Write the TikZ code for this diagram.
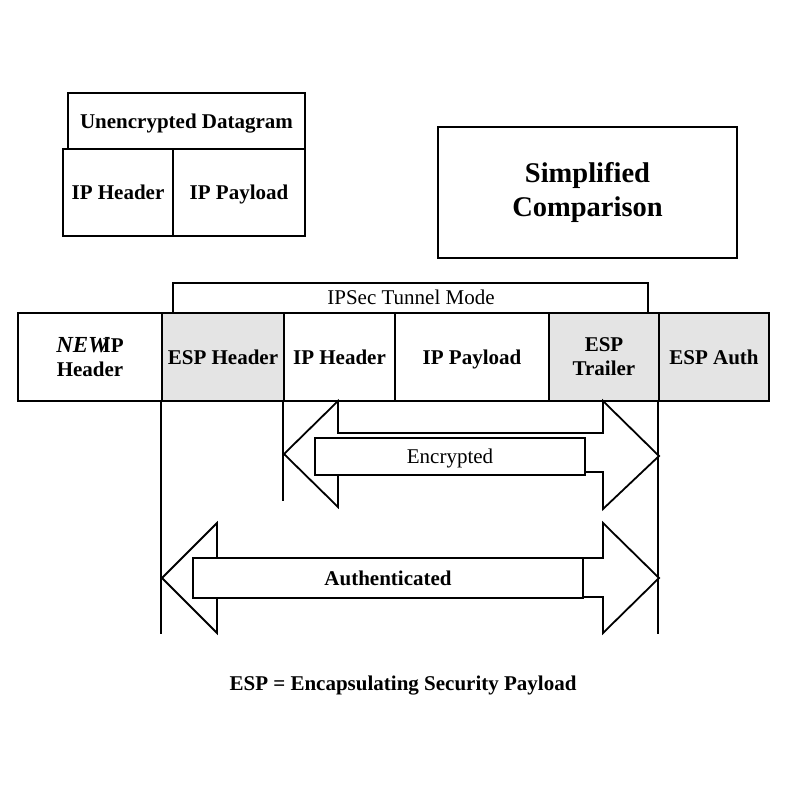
\documentclass[tikz,border=0pt]{standalone}
\usepackage{fontspec}
\setmainfont{Liberation Serif}
\usepackage{xcolor}
\usetikzlibrary{positioning,calc}
\definecolor{CellGray}{HTML}{E4E4E4}
\newcommand{\bodyfont}{\fontsize{21}{24}\selectfont}
\tikzset{
  cell/.style={draw=black, line width=2.4pt, inner sep=0pt, align=center,
               font=\bodyfont\bfseries},
  shaded/.style={cell, fill=CellGray},
  oneline/.style={text height=14pt, text depth=0pt},
  thinline/.style={draw=black, line width=1.8pt},
  arrowbody/.style={draw=black, line width=1.8pt, fill=white, line join=miter},
  lbl/.style={draw=black, line width=1.8pt, fill=white, inner sep=0pt,
              oneline, font=\bodyfont}
}

\begin{document}
\begin{tikzpicture}[x=1pt, y=-1pt]
    \useasboundingbox[fill=white] (0,0) rectangle (800,800);

    \node[cell, oneline, minimum width=237pt, minimum height=56pt] (udg)
      at (186.5,121) {Unencrypted Datagram};
    \node[cell, oneline, minimum width=110pt, minimum height=87pt] (uiph)
      at (118,192.5) {IP Header};
    \node[cell, oneline, minimum width=132pt, minimum height=87pt] (uipp)
      at (239,192.5) {IP Payload};

    \node[cell, minimum width=299pt, minimum height=131pt,
          font=\fontsize{28.5}{34}\selectfont\bfseries] (simp)
      at (587.5,192.5) {Simplified\\Comparison};

    \node[cell, minimum width=144pt, minimum height=88pt] (newip)
      at (90,357) {{\fontsize{23}{24}\selectfont\itshape NEW}\kern-6pt IP\\Header};
    \node[shaded, oneline, minimum width=122pt, minimum height=88pt] (esphdr)
      at (223,357) {ESP Header};
    \node[cell, oneline, minimum width=111pt, minimum height=88pt] (iphdr)
      at (339.5,357) {IP Header};
    \node[cell, oneline, minimum width=154pt, minimum height=88pt] (ippay)
      at (472,357) {IP Payload};
    \node[shaded, minimum width=110pt, minimum height=88pt] (esptrl)
      at (604,357) {ESP\\Trailer};
    \node[shaded, oneline, minimum width=110pt, minimum height=88pt] (espauth)
      at (714,357) {ESP Auth};

    \coordinate (tunL) at (173,313);
    \coordinate (tunR) at (648,313);
    \draw[thinline] (tunL) -- ++(0,-30) -| (tunR);
    \node[font=\bodyfont] (tunnel) at (411,297) {IPSec Tunnel Mode};

    \draw[thinline] (esphdr.south west) -- ++(0,232);
    \draw[thinline] (iphdr.south west) -- ++(0,99);
    \draw[thinline] (espauth.south west) -- ++(0,232);

    \draw[arrowbody] (284,454) -- (338,401) -- (338,433) -- (603,433)
      -- (603,401) -- (659,456) -- (603,509) -- (603,472) -- (338,472)
      -- (338,507) -- cycle;
    \node[lbl, minimum width=270pt, minimum height=37pt] (enc)
      at (450,456.5) {Encrypted};

    \draw[arrowbody] (162,578) -- (217,523) -- (217,558) -- (603,558)
      -- (603,523) -- (659,578) -- (603,633) -- (603,597) -- (217,597)
      -- (217,633) -- cycle;
    \node[lbl, minimum width=390pt, minimum height=40pt,
          font=\bodyfont\bfseries] (auth)
      at (388,578) {Authenticated};

    \node[font=\bodyfont\bfseries] (legend) at (403,686)
      {ESP = Encapsulating Security Payload};
  \end{tikzpicture}
\end{document}
